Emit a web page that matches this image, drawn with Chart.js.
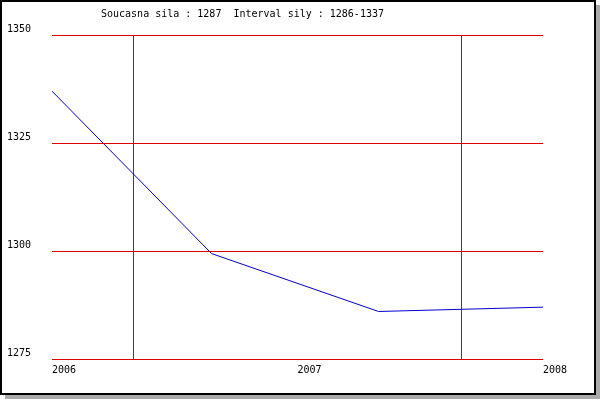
<!DOCTYPE html>
<html>
<head>
<meta charset="utf-8">
<script src="https://cdn.jsdelivr.net/npm/chart.js@4"></script>
<style>
  body { margin: 0; background: #fff; }
  #wrap { width: 600px; height: 400px; }
</style>
</head>
<body>
<div id="wrap"><canvas id="silaChart" width="600" height="400"></canvas></div>
<script>
const years = [2006, 2006.65, 2007.33, 2008];
const sila = [1337, 1299.4, 1286, 1287];
const yTicks = [1275, 1300, 1325, 1350];
const xLabels = [2006, 2007, 2008];
const xGrid = [2006 + 1 / 3, 2007 + 2 / 3];
const titleText = "Soucasna sila : 1287  Interval sily : 1286-1337";

const monoFont = { family: "'DejaVu Sans Mono', monospace", size: 10 };

// frame with shadow, drawn before everything
const framePlugin = {
  id: "frame",
  beforeDraw(chart) {
    const c = chart.ctx;
    c.save();
    c.fillStyle = "#fff";
    c.fillRect(0, 0, 600, 400);
    c.fillStyle = "#aaaaaa";
    c.fillRect(5, 5, 595, 394);
    c.fillStyle = "#000";
    c.fillRect(0, 0, 596, 395);
    c.fillStyle = "#fff";
    c.fillRect(2, 2, 592, 391);
    c.restore();
  },
  afterDraw(chart) {
    const c = chart.ctx;
    c.save();
    c.font = "10px 'DejaVu Sans Mono', monospace";
    c.fillStyle = "#000";
    c.textBaseline = "middle";
    c.textAlign = "left";
    c.fillText(titleText, 101, 14);
    c.restore();
  },
};

const ctx = document.getElementById("silaChart").getContext("2d");

const silaChart = new Chart(ctx, {
  type: "line",
  data: {
    datasets: [
      {
        data: years.map((x, i) => ({ x: x, y: sila[i] })),
        borderColor: "#0000cc",
        borderWidth: 1,
        pointRadius: 0,
        tension: 0,
        fill: false,
      },
    ],
  },
  options: {
    responsive: false,
    animation: false,
    layout: { padding: { left: 7, top: 35, right: 57, bottom: 21 } },
    scales: {
      x: {
        type: "linear",
        min: 2006,
        max: 2008,
        border: { display: false },
        afterBuildTicks: (scale) => {
          scale.ticks = [...xLabels, ...xGrid]
            .sort((a, b) => a - b)
            .map((v) => ({ value: v }));
        },
        afterFit: (scale) => {
          scale.height = 20;
        },
        grid: {
          drawTicks: false,
          lineWidth: 1,
          color: (c) =>
            c.tick && xLabels.includes(c.tick.value) ? "rgba(0,0,0,0)" : "#dd0000",
        },
        ticks: {
          autoSkip: false,
          maxRotation: 0,
          align: "start",
          padding: 5,
          color: "#000",
          font: monoFont,
          callback: (v) => (xLabels.includes(v) ? String(v) : ""),
        },
      },
      y: {
        min: 1275,
        max: 1350,
        border: { display: false },
        afterBuildTicks: (scale) => {
          scale.ticks = yTicks.map((v) => ({ value: v }));
        },
        afterFit: (scale) => {
          scale.width = 45;
        },
        grid: {
          drawTicks: false,
          lineWidth: 1,
          color: "#dd0000",
        },
        ticks: {
          crossAlign: "far",
          labelOffset: -6,
          color: "#000",
          font: monoFont,
          callback: (v) => String(v),
        },
      },
    },
    plugins: {
      legend: { display: false },
      title: { display: false },
      tooltip: { enabled: false },
    },
  },
  plugins: [framePlugin],
});
</script>
</body>
</html>
